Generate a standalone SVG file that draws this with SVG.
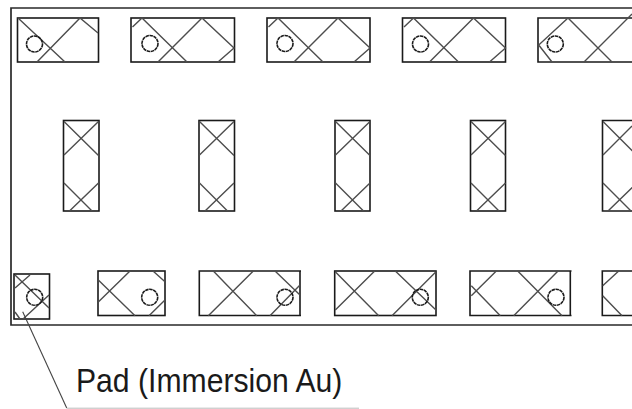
<svg xmlns="http://www.w3.org/2000/svg" width="632" height="409" viewBox="0 0 632 409">
<style>
.b{fill:none;stroke:#1a1a1a;stroke-width:1.6}
.x{fill:none;stroke:#4d4d4d;stroke-width:1.4}
.c{fill:none;stroke:#1a1a1a;stroke-width:1.6;stroke-dasharray:3.5 .6}
.o{fill:none;stroke:#2a2a2a;stroke-width:1.7}
.l{fill:none;stroke:#444;stroke-width:1.1}
text{font-family:"Liberation Sans",Arial,sans-serif;font-size:33.500px;fill:#1a1a1a}
</style>
<rect width="632" height="409" fill="#fff"/>
<g id="board"><path class="o" d="M640 8H11V325H640"/></g>
<g id="pad-t1"><rect class="b" x="17.500" y="18" width="81" height="44"/><path class="x" d="M18 18L65 62M37 62L80 18L98 33"/><circle class="c" cx="34.500" cy="44" r="8"/></g>
<g id="pad-t2"><rect class="b" x="131" y="18" width="103.500" height="44"/><path class="x" d="M132.500 27L142 18L187 62M158 62L202 18L234 48L218 62"/><circle class="c" cx="150" cy="43.500" r="8"/></g>
<g id="pad-t3"><rect class="b" x="267" y="18" width="103" height="44"/><path class="x" d="M268.500 27L278 18L323 62M294 62L338 18L370 48L354 62"/><circle class="c" cx="285" cy="43.500" r="8"/></g>
<g id="pad-t4"><rect class="b" x="402.500" y="18" width="103" height="44"/><path class="x" d="M404 27L413.500 18L458.500 62M429.500 62L473.500 18L505.500 48L489.500 62"/><circle class="c" cx="420.500" cy="44" r="8"/></g>
<g id="pad-t5"><path class="b" d="M640 18H538V62H640"/><path class="x" d="M552 62L538.700 45L568 18L612 62M584 62L632 14"/><circle class="c" cx="555.300" cy="44" r="8"/></g>
<g id="pad-m1"><rect class="b" x="63.500" y="120.500" width="35.500" height="90.500"/><path class="x" d="M64 121.500L98.500 155.500M98.500 121.500L64 155M64 183L92 211M98.500 183L69.500 211"/></g>
<g id="pad-m2"><rect class="b" x="199" y="120.500" width="35.500" height="90.500"/><path class="x" d="M199.500 121.500L234 155.500M234 121.500L199.500 155M199.500 183L227.500 211M234 183L205 211"/></g>
<g id="pad-m3"><rect class="b" x="335" y="120.500" width="35" height="90.500"/><path class="x" d="M335.500 121.500L370 155.500M370 121.500L335.500 155M335.500 183L363.500 211M370 183L341 211"/></g>
<g id="pad-m4"><rect class="b" x="470.500" y="120.500" width="35" height="90.500"/><path class="x" d="M471 121.500L505.500 155.500M505.500 121.500L471 155M471 183L499 211M505.500 183L476.500 211"/></g>
<g id="pad-m5"><path class="b" d="M640 120.500H602.500V211H640"/><path class="x" d="M603 155L632 126M603 121.500L637 155.500M603 183L631 211M637 183L608 211"/></g>
<g id="pad-b1"><rect class="b" x="14" y="274" width="35.500" height="45"/><path class="x" d="M15 275L49 308M30 275L15 288M49 295L23 319M15 312L20 319"/><circle class="c" cx="34.700" cy="297.300" r="8"/></g>
<g id="pad-b2"><rect class="b" x="98" y="271" width="67" height="44.500"/><path class="x" d="M98.300 280L135 315.700M130 271L98.300 302M153 271L165 281.700M165 300L149 315.700"/><circle class="c" cx="149.700" cy="297.300" r="8"/></g>
<g id="pad-b3"><path class="b" d="M300 271V315.500M301 271H199.300V315.500H301"/><path class="x" d="M213.300 271L256.700 315.700M253.300 271L208.300 315.700M275 271L300 295M300 285L270 315.700"/><circle class="c" cx="285" cy="297.300" r="8"/></g>
<g id="pad-b4"><rect class="b" x="334.700" y="271" width="101.300" height="44.500"/><path class="x" d="M335.300 271.700L378.700 315.700M374.700 271L335.300 310M395.300 271L436 310M436 271.700L392 315.700"/><circle class="c" cx="420.300" cy="297.300" r="8"/></g>
<g id="pad-b5"><path class="b" d="M570.300 271V315.500M571.500 271H470V315.500H571.500"/><path class="x" d="M471.300 295.700L496.300 271M471.300 285.700L500.300 315.700M517.700 271L562 315.700M558 271L513.700 315.700"/><circle class="c" cx="556" cy="297.300" r="8"/></g>
<g id="pad-b6"><path class="b" d="M640 271H602.300V315.500H640"/><path class="x" d="M618.700 271L602.700 285.700M602.700 295.700L622 315.700"/></g>
<g id="connectors"><path class="l" d="M22.700 311.700L66.700 408"/><path fill="none" stroke="#bbb" d="M66.700 408.200H359"/></g>
<g id="label"><text transform="translate(76 391.500) scale(.9 1)">Pad (Immersion Au)</text></g>
</svg>
